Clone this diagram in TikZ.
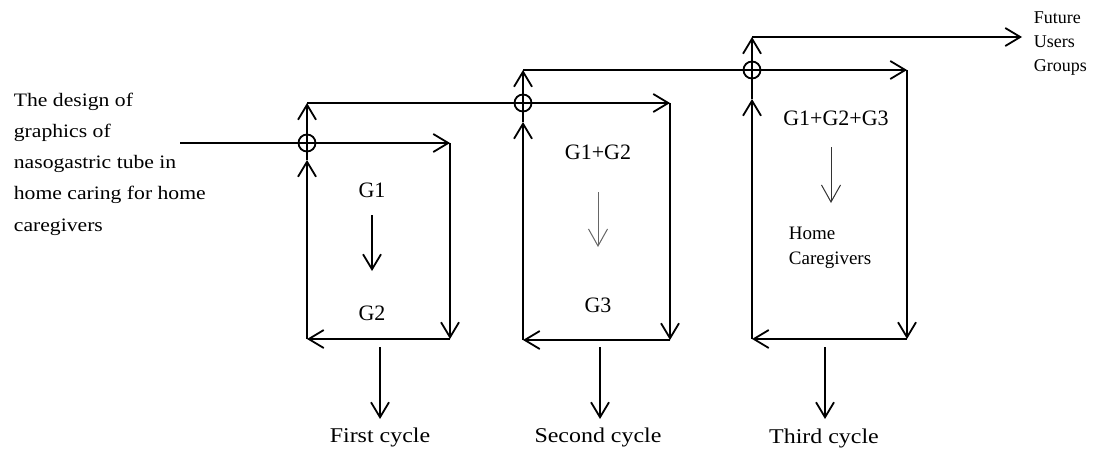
\documentclass[tikz,border=0pt]{standalone}
\usepackage{fontspec}
\setmainfont{Liberation Serif}
\newfontfamily\widefont[FakeStretch=1.14]{Liberation Serif}
\usetikzlibrary{arrows.meta}

\begin{document}
\begin{tikzpicture}[x=1pt, y=-1pt, line width=1.8pt,
  flow/.style={-{Straight Barb[length=15pt, width=18pt]}},
  thinflow/.style={line width=1pt, draw=black!60, -{Straight Barb[length=17pt, width=19pt]}},
  junction/.style={circle, draw, line width=1.8pt, minimum size=17pt, inner sep=0pt},
  group/.style={font=\fontsize{22}{24}\selectfont, inner sep=0pt},
  cycle/.style={font=\widefont\fontsize{21}{24}\selectfont, inner sep=0pt},
  note/.style={font=\fontsize{19}{25}\selectfont, align=left, anchor=west, inner sep=0pt}]

  \useasboundingbox (0, 0) rectangle (1093, 450);

  \node (topic) at (13, 164) [anchor=west, align=left, inner sep=0pt,
    font=\widefont\fontsize{19}{31.2}\selectfont]
    {The design of\\graphics of\\nasogastric tube in\\home caring for home\\caregivers};

  \coordinate (in1) at (180, 143);
  \coordinate (tr1) at (450, 143);
  \coordinate (br1) at (450, 339);
  \coordinate (bl1) at (307, 339);
  \coordinate (mid1) at (307, 160);
  \coordinate (tl1) at (307, 103);

  \coordinate (tr2) at (670, 103);
  \coordinate (br2) at (670, 340);
  \coordinate (bl2) at (523, 340);
  \coordinate (mid2) at (523, 122);
  \coordinate (tl2) at (523, 70);

  \coordinate (tr3) at (907, 70);
  \coordinate (br3) at (907, 339);
  \coordinate (bl3) at (752, 339);
  \coordinate (mid3) at (752, 99);
  \coordinate (tl3) at (752, 37);
  \coordinate (future) at (1022, 37);

  \node (j1) at (307, 143) [junction] {};
  \node (j2) at (523, 103) [junction] {};
  \node (j3) at (752, 70) [junction] {};

  \draw[flow] (in1) -- (tr1);
  \draw[flow] (tr1) -- (br1);
  \draw[flow] (br1) -- (bl1);
  \draw[flow] (bl1) -- (mid1);
  \draw[flow] (mid1) -- (tl1);

  \draw[flow] (tl1) -- (tr2);
  \draw[flow] (tr2) -- (br2);
  \draw[flow] (br2) -- (bl2);
  \draw[flow] (bl2) -- (mid2);
  \draw[flow] (mid2) -- (tl2);

  \draw[flow] (tl2) -- (tr3);
  \draw[flow] (tr3) -- (br3);
  \draw[flow] (br3) -- (bl3);
  \draw[flow] (bl3) -- (mid3);
  \draw[flow] (mid3) -- (tl3);

  \draw[flow] (tl3) -- (future);

  \node (users) at (1033, 44) [note, font=\fontsize{18}{24}\selectfont] {Future\\Users\\Groups};

  \node (g1) at (372, 190) [group] {G1};
  \node (g2) at (372, 313) [group] {G2};
  \coordinate (a1) at (372, 215);
  \coordinate (b1) at (372, 271);
  \draw[flow] (a1) -- (b1);

  \node (g12) at (598, 152) [group] {G1+G2};
  \node (g3) at (598, 305) [group] {G3};
  \coordinate (a2) at (598, 192);
  \coordinate (b2) at (598, 247);
  \draw[thinflow] (a2) -- (b2);

  \node (g123) at (836, 118) [group] {G1+G2+G3};
  \node (home) at (788, 248) [note] {Home\\Caregivers};
  \coordinate (a3) at (831, 147);
  \coordinate (b3) at (831, 203);
  \draw[thinflow, draw=black!80] (a3) -- (b3);

  \node (first) at (380, 437) [cycle] {First cycle};
  \node (second) at (598, 437) [cycle] {Second cycle};
  \node (third) at (824, 438) [cycle] {Third cycle};

  \coordinate (d1) at (380, 347);
  \coordinate (d2) at (600, 347);
  \coordinate (d3) at (825, 347);
  \coordinate (e1) at (380, 419);
  \coordinate (e2) at (600, 419);
  \coordinate (e3) at (825, 419);
  \draw[flow] (d1) -- (e1);
  \draw[flow] (d2) -- (e2);
  \draw[flow] (d3) -- (e3);

\end{tikzpicture}
\end{document}
